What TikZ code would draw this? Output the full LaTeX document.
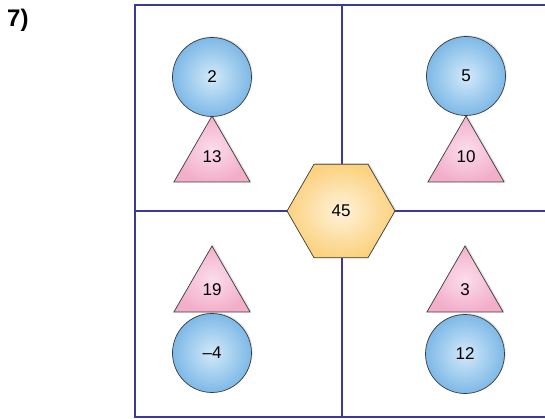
\documentclass[tikz,border=0pt]{standalone}
\usepackage{fontspec}
\setmainfont{Liberation Sans}
\usetikzlibrary{shapes.geometric,shadows}
\definecolor{gridline}{HTML}{3A3A98}
\definecolor{circout}{HTML}{7DB9E7}
\definecolor{circin}{HTML}{D3E9F9}
\definecolor{triout}{HTML}{F3AFCA}
\definecolor{triin}{HTML}{FBDDEA}
\definecolor{hexout}{HTML}{FBD27F}
\definecolor{hexin}{HTML}{FFF2DA}
\definecolor{edge}{HTML}{3A3A3A}
\tikzset{
  grid/.style={draw=gridline, line width=1.8pt},
  shp/.style={draw=edge, line width=0.7pt, inner sep=0pt, font=\fontsize{17}{19}\selectfont,
    drop shadow={opacity=0.22, shadow xshift=1.2pt, shadow yshift=1.2pt}},
  circ/.style={shp, circle, minimum size=79pt, shading=radial, inner color=circin, outer color=circout},
  tri/.style={shp, regular polygon, regular polygon sides=3, minimum size=88pt, shading=radial, inner color=triin, outer color=triout},
  hex/.style={shp, regular polygon, regular polygon sides=6, minimum size=108pt, shading=radial, inner color=hexin, outer color=hexout},
  num/.style={font=\fontsize{17}{19}\selectfont, inner sep=0pt}
}
\begin{document}
\begin{tikzpicture}[x=1pt,y=-1pt]
\useasboundingbox (0,0) rectangle (545,419);
% frame
\coordinate (tl) at (135,5);
\coordinate (tr) at (548,5);
\coordinate (bl) at (135,417);
\coordinate (br) at (548,417);
\coordinate (mt) at (342,5);
\coordinate (mb) at (342,417);
\coordinate (ml) at (135,211);
\coordinate (mr) at (548,211);
\draw[grid] (tr) -- (tl) -- (bl) -- (br);
\draw[grid] (mt) -- (mb);
\draw[grid] (ml) -- (mr);
\node[font=\bfseries\fontsize{24}{27}\selectfont, anchor=west, inner sep=0pt] (lbl) at (7,20) {7)};
% hexagon
\node[hex] (hx) at (341,211) {45};
% top-left
\node[tri] (t1) at (212,160) {};
\node[num] (t1n) at (212,157) {13};
\node[circ] (c1) at (212,77) {2};
% top-right
\node[tri] (t2) at (466,160) {};
\node[num] (t2n) at (466,157) {10};
\node[circ] (c2) at (466,76) {5};
% bottom-left
\node[tri] (t3) at (212,290) {19};
\node[circ] (c3) at (212,353) {–4};
% bottom-right
\node[tri] (t4) at (465,290) {3};
\node[circ] (c4) at (465,354) {12};
\end{tikzpicture}
\end{document}
